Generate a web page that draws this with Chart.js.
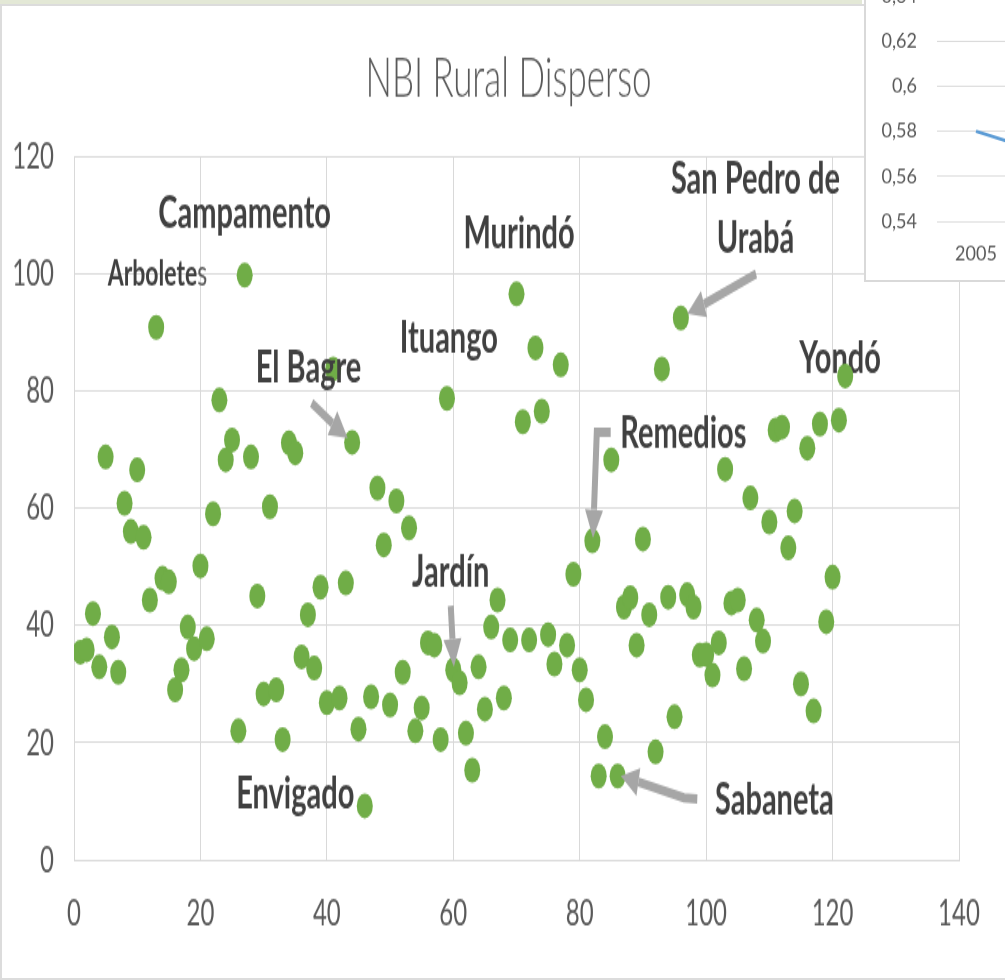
<!DOCTYPE html>
<html>
<head>
<meta charset="utf-8">
<title>NBI Rural Disperso</title>
<script src="https://cdn.jsdelivr.net/npm/chart.js@4.4.0/dist/chart.umd.min.js"></script>
<style>
  html, body { margin: 0; padding: 0; background: #fff; }
  body { position: relative; width: 1005px; height: 980px; overflow: hidden; }
  #topStrip { position: absolute; left: 0; top: 0; width: 862px; height: 4px; background: #e3e8d6; }
  #frame { position: absolute; left: 0; top: 4px; width: 1020px; height: 976px; box-sizing: border-box;
           border-left: 2px solid #dcdcdc; border-top: 2px solid #dcdcdc; border-bottom: 2px solid #dcdcdc; }
  #mainChart { position: absolute; left: 0; top: 0; }
  #insetBox { position: absolute; left: 864px; top: -10px; width: 200px; height: 292px; box-sizing: border-box;
              background: #fff; border-left: 2px solid #d9d9d9; border-bottom: 2px solid #d9d9d9; overflow: hidden; z-index: 2; }
  #insetChart { position: absolute; left: 0; top: -40px; }
</style>
</head>
<body>
<div id="topStrip"></div>
<div id="frame"></div>
<!-- the original picture is stretched vertically, so the canvas is drawn short and scaled up by CSS -->
<canvas id="mainChart" width="1005" height="628" style="width:1005px;height:980px"></canvas>
<div id="insetBox"><canvas id="insetChart" width="300" height="287" style="width:300px;height:330px"></canvas></div>

<script>
// municipios ordered 1..122 (x) and their NBI rural disperso (y)
const municipioIdx = [
  1, 2, 3, 4, 5, 6, 7, 8, 9, 10, 11, 12, 13, 14, 15, 16, 17, 18, 19, 20,
  21, 22, 23, 24, 25, 26, 27, 28, 29, 30, 31, 32, 33, 34, 35, 36, 37, 38, 39, 40,
  41, 42, 43, 44, 45, 46, 47, 48, 49, 50, 51, 52, 53, 54, 55, 56, 57, 58, 59, 60,
  61, 62, 63, 64, 65, 66, 67, 68, 69, 70, 71, 72, 73, 74, 75, 76, 77, 78, 79, 80,
  81, 82, 83, 84, 85, 86, 87, 88, 89, 90, 91, 92, 93, 94, 95, 96, 97, 98, 99, 100,
  101, 102, 103, 104, 105, 106, 107, 108, 109, 110, 111, 112, 113, 114, 115, 116, 117, 118, 119, 120,
  121, 122
];
const nbiRural = [
  35.4, 35.8, 42.0, 32.9, 68.7, 38.0, 32.0, 60.8, 56.0, 66.5, 55.0, 44.3, 90.8, 48.0, 47.4, 29.0, 32.4, 39.7, 36.0, 50.1,
  37.7, 59.0, 78.4, 68.2, 71.6, 22.0, 99.7, 68.7, 45.0, 28.3, 60.2, 29.0, 20.5, 71.1, 69.4, 34.6, 41.8, 32.7, 46.5, 26.8,
  83.7, 27.6, 47.2, 71.2, 22.3, 9.2, 27.8, 63.4, 53.7, 26.4, 61.2, 32.0, 56.6, 22.0, 25.9, 37.0, 36.6, 20.5, 78.7, 32.4,
  30.2, 21.6, 15.3, 32.9, 25.7, 39.7, 44.3, 27.6, 37.5, 96.5, 74.7, 37.5, 87.3, 76.5, 38.4, 33.4, 84.4, 36.6, 48.7, 32.4,
  27.3, 54.4, 14.3, 21.0, 68.2, 14.3, 43.1, 44.7, 36.6, 54.7, 41.8, 18.4, 83.7, 44.8, 24.4, 92.4, 45.2, 43.1, 34.9, 35.0,
  31.5, 37.0, 66.6, 43.8, 44.3, 32.6, 61.7, 40.9, 37.3, 57.6, 73.3, 73.8, 53.2, 59.5, 30.0, 70.2, 25.4, 74.3, 40.6, 48.2,
  75.0, 82.5
];
const xTicks = [0, 20, 40, 60, 80, 100, 120, 140];
const yTicks = [0, 20, 40, 60, 80, 100, 120];
const chartTitle = 'NBI Rural Disperso';

// the small line chart peeking in at the top right
const insetYears = ['2005', '2011'];
const insetValues = [0.58, 0.569];
const insetTicks = [0.54, 0.56, 0.58, 0.6, 0.62, 0.64];

// callouts: text placed in data units (x centre, y baseline)
const callouts = [
  { text: 'Campamento', x: 27.0, y: 107.7 },
  { text: 'Arbolete', tail: 's', x: 13.2, y: 98.0, small: true },
  { text: 'El Bagre', x: 37.1, y: 81.3 },
  { text: 'Ituango', x: 59.3, y: 86.6 },
  { text: 'Murindó', x: 70.4, y: 104.3 },
  { text: 'San Pedro de', x: 107.8, y: 113.7 },
  { text: 'Urabá', x: 107.8, y: 103.6 },
  { text: 'Yondó', x: 121.2, y: 83.0, under: true },
  { text: 'Remedios', x: 96.4, y: 70.2 },
  { text: 'Jardín', x: 59.6, y: 46.5 },
  { text: 'Envigado', x: 35.0, y: 8.9 },
  { text: 'Sabaneta', x: 110.8, y: 7.7 }
];
// arrows, last point is the tip
const arrows = [
  [[37.6, 77.9], [43.3, 71.9]],
  [[59.6, 43.3], [60.1, 32.9]],
  [[84.9, 72.9], [82.7, 72.9], [82.1, 54.9]],
  [[107.9, 99.9], [97.0, 93.1]],
  [[98.6, 10.4], [96.5, 10.6], [86.5, 14.3]]
];

const FONT = "Lato, 'Open Sans', sans-serif";
const TEXT_GREY = '#595959';
const GRID_GREY = '#d9d9d9';

const points = municipioIdx.map((x, i) => ({ x: x, y: nbiRural[i] }));

function drawCallouts(chart, underLayer) {
  const ctx = chart.ctx;
  const xs = chart.scales.x, ys = chart.scales.y;
  ctx.save();
  ctx.fillStyle = '#404040';
  ctx.textBaseline = 'alphabetic';
  callouts.forEach((c) => {
    if (!!c.under !== underLayer) return;
    const size = c.small ? 23 : 29;
    const px = xs.getPixelForValue(c.x);
    const py = ys.getPixelForValue(c.y);
    ctx.font = `bold ${size}px ${FONT}`;
    const w1 = ctx.measureText(c.text).width;
    let w2 = 0;
    if (c.tail) {
      ctx.font = `${size}px ${FONT}`;
      w2 = ctx.measureText(c.tail).width;
    }
    const left = px - (w1 + w2) / 2;
    ctx.textAlign = 'left';
    ctx.font = `bold ${size}px ${FONT}`;
    ctx.fillText(c.text, left, py);
    if (c.tail) {
      ctx.font = `${size}px ${FONT}`;
      ctx.fillStyle = '#595959';
      ctx.fillText(c.tail, left + w1, py);
      ctx.fillStyle = '#404040';
    }
  });
  ctx.restore();
}

function drawArrows(chart) {
  const ctx = chart.ctx;
  const xs = chart.scales.x, ys = chart.scales.y;
  const headLen = 18, headHalf = 9;
  ctx.save();
  ctx.strokeStyle = '#a6a6a6';
  ctx.fillStyle = '#a6a6a6';
  ctx.lineWidth = 6;
  ctx.lineCap = 'butt';
  ctx.lineJoin = 'miter';
  arrows.forEach((path) => {
    const p = path.map(([x, y]) => [xs.getPixelForValue(x), ys.getPixelForValue(y)]);
    const tip = p[p.length - 1];
    const prev = p[p.length - 2];
    const dx = tip[0] - prev[0], dy = tip[1] - prev[1];
    const len = Math.hypot(dx, dy);
    const ux = dx / len, uy = dy / len;
    const base = [tip[0] - ux * headLen, tip[1] - uy * headLen];
    ctx.beginPath();
    ctx.moveTo(p[0][0], p[0][1]);
    for (let i = 1; i < p.length - 1; i++) ctx.lineTo(p[i][0], p[i][1]);
    ctx.lineTo(base[0], base[1]);
    ctx.stroke();
    ctx.beginPath();
    ctx.moveTo(tip[0], tip[1]);
    ctx.lineTo(base[0] - uy * headHalf, base[1] + ux * headHalf);
    ctx.lineTo(base[0] + uy * headHalf, base[1] - ux * headHalf);
    ctx.closePath();
    ctx.fill();
  });
  ctx.restore();
}

// title sits a little left of the plot centre, as in the Excel picture
function drawTitle(chart) {
  const ctx = chart.ctx;
  const area = chart.chartArea;
  ctx.save();
  ctx.fillStyle = TEXT_GREY;
  ctx.font = `300 35px ${FONT}`;
  ctx.textAlign = 'center';
  ctx.textBaseline = 'alphabetic';
  ctx.fillText(chartTitle, (area.left + area.right) / 2 - 8, area.top - 38);
  ctx.restore();
}

const calloutPlugin = {
  id: 'callouts',
  beforeDatasetsDraw(chart) { drawCallouts(chart, true); },
  afterDatasetsDraw(chart) {
    drawCallouts(chart, false);
    drawArrows(chart);
  },
  afterDraw(chart) { drawTitle(chart); }
};

new Chart(document.getElementById('mainChart'), {
  type: 'scatter',
  data: {
    datasets: [{
      label: chartTitle,
      data: points,
      backgroundColor: '#70ad47',
      borderColor: '#70ad47',
      borderWidth: 0,
      pointRadius: 8,
      pointHoverRadius: 8
    }]
  },
  options: {
    responsive: false,
    animation: false,
    events: [],
    layout: { padding: { top: 100, right: 46, bottom: 0, left: 0 } },
    plugins: {
      legend: { display: false },
      tooltip: { enabled: false },
      title: { display: false }
    },
    scales: {
      x: {
        type: 'linear',
        min: xTicks[0],
        max: xTicks[xTicks.length - 1],
        afterBuildTicks: (s) => { s.ticks = xTicks.map((v) => ({ value: v })); },
        ticks: { color: TEXT_GREY, font: { family: FONT, size: 24 }, padding: 20, maxRotation: 0 },
        grid: { color: GRID_GREY, lineWidth: 1, drawTicks: false },
        border: { color: GRID_GREY },
        afterFit: (s) => { s.height = 77; }
      },
      y: {
        type: 'linear',
        min: yTicks[0],
        max: yTicks[yTicks.length - 1],
        afterBuildTicks: (s) => { s.ticks = yTicks.map((v) => ({ value: v })); },
        ticks: { color: TEXT_GREY, font: { family: FONT, size: 24 }, padding: 20 },
        grid: { color: GRID_GREY, lineWidth: 1, drawTicks: false },
        border: { color: GRID_GREY },
        afterFit: (s) => { s.width = 74; }
      }
    }
  },
  plugins: [calloutPlugin]
});

new Chart(document.getElementById('insetChart'), {
  type: 'line',
  data: {
    labels: insetYears,
    datasets: [{
      data: insetValues,
      borderColor: '#5b9bd5',
      borderWidth: 3,
      pointRadius: 0,
      tension: 0
    }]
  },
  options: {
    responsive: false,
    animation: false,
    events: [],
    layout: { padding: { top: 40, right: 73, bottom: 0, left: 0 } },
    plugins: { legend: { display: false }, tooltip: { enabled: false } },
    scales: {
      x: {
        offset: true,
        grid: { display: false },
        border: { display: false },
        ticks: { color: TEXT_GREY, font: { family: FONT, size: 18 }, padding: 9 },
        afterFit: (s) => { s.height = 51; }
      },
      y: {
        min: insetTicks[0],
        max: insetTicks[insetTicks.length - 1],
        afterBuildTicks: (s) => { s.ticks = insetTicks.map((v) => ({ value: v })); },
        ticks: {
          color: TEXT_GREY,
          font: { family: FONT, size: 18 },
          padding: 20,
          callback: (v) => String(Math.round(v * 100) / 100).replace('.', ',')
        },
        grid: { color: GRID_GREY, drawTicks: false },
        border: { display: false },
        afterFit: (s) => { s.width = 71; }
      }
    }
  }
});
</script>
</body>
</html>
